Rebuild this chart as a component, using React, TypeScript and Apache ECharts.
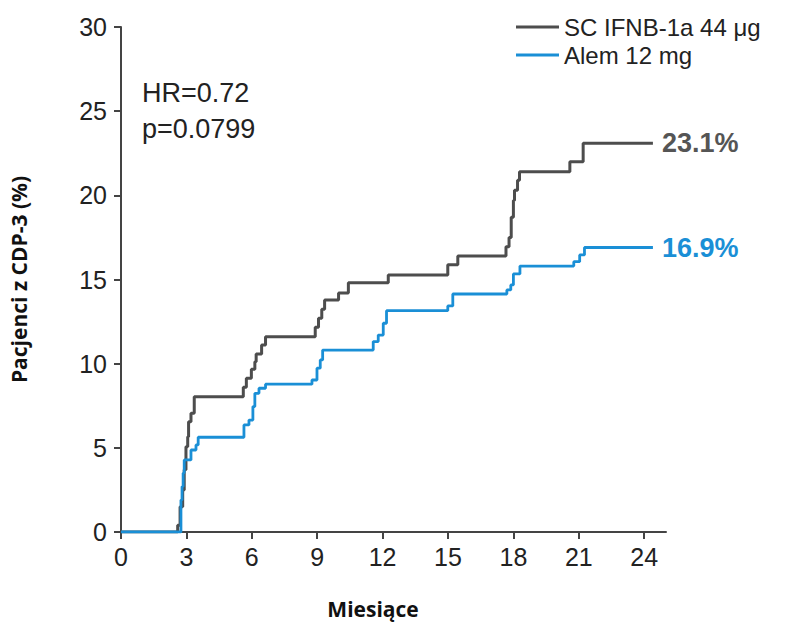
import React, { useEffect, useRef } from "react";
import * as echarts from "echarts";

const seriesNames = ["SC IFNB-1a 44 μg", "Alem 12 mg"];
const endLabels = ["23.1%", "16.9%"];
const xTicks = [0, 3, 6, 9, 12, 15, 18, 21, 24];

const ifnbMonths = [0, 2.6, 2.71, 2.83, 2.9, 2.98, 3.06, 3.1, 3.21, 3.36, 5.61, 5.75, 5.98, 6.14, 6.2, 6.45, 6.63, 8.91, 9.06, 9.21, 9.34, 9.98, 10.43, 12.26, 14.99, 15.45, 17.66, 17.8, 17.9, 18.0, 18.05, 18.19, 18.28, 20.59, 21.2, 24.4];
const ifnbValues = [0, 0.4, 1.5, 2.5, 3.7, 5.07, 5.66, 6.55, 7.05, 8.04, 8.6, 9.13, 9.67, 10.12, 10.58, 11.11, 11.6, 12.16, 12.7, 13.23, 13.78, 14.2, 14.8, 15.27, 15.87, 16.4, 16.95, 17.5, 18.7, 19.7, 20.3, 20.9, 21.4, 22.0, 23.1, 23.1];

const alemMonths = [0, 2.75, 2.8, 2.85, 2.9, 3.21, 3.44, 3.54, 5.64, 5.87, 6.05, 6.14, 6.33, 6.63, 8.76, 8.99, 9.14, 9.25, 11.57, 11.8, 12.03, 12.18, 14.99, 15.22, 17.7, 17.88, 18.0, 18.3, 20.77, 21.04, 21.26, 24.4];
const alemValues = [0, 1.9, 2.7, 3.5, 4.28, 4.87, 5.17, 5.63, 6.36, 6.65, 7.45, 8.24, 8.54, 8.78, 9.03, 9.73, 10.22, 10.81, 11.31, 11.7, 12.4, 13.15, 13.43, 14.14, 14.38, 14.68, 15.33, 15.8, 16.06, 16.46, 16.9, 16.9];

const GRAY = "#4d4d4d";
const BLUE = "#1a8fd6";
const FONT = "'Liberation Sans', Arial, sans-serif";
const BOLD_FONT = "'Open Sans', 'Noto Sans', sans-serif";

export default function App() {
  const ref = useRef<HTMLDivElement>(null);
  useEffect(() => {
    if (!ref.current) return;
    const chart = echarts.init(ref.current, null, { renderer: "svg" });
    const zip = (xs: number[], ys: number[]) => xs.map((x, i) => [x, ys[i]]);
    chart.setOption({
      animation: false,
      backgroundColor: "#ffffff",
      grid: { left: 117, right: 119, top: 27, bottom: 92 },
      legend: {
        orient: "vertical",
        left: 511,
        top: 10,
        icon: "rect",
        itemWidth: 43,
        itemHeight: 3,
        itemGap: 4,
        textStyle: { fontFamily: FONT, fontSize: 24, lineHeight: 24, color: "#222" },
        data: seriesNames,
      },
      xAxis: {
        type: "value",
        min: 0,
        max: 25,
        splitLine: { show: false },
        axisLine: { lineStyle: { color: "#444", width: 2 } },
        axisTick: { length: 7, lineStyle: { color: "#444", width: 2 }, customValues: xTicks },
        axisLabel: { customValues: xTicks, fontFamily: FONT, fontSize: 25, color: "#222", margin: 12 },
      },
      yAxis: {
        type: "value",
        min: 0,
        max: 30,
        interval: 5,
        name: "Pacjenci z CDP-3 (%)",
        nameLocation: "middle",
        nameRotate: 90,
        nameGap: 92,
        nameTextStyle: { fontFamily: BOLD_FONT, fontWeight: "bold", fontSize: 21, color: "#111" },
        splitLine: { show: false },
        axisLine: { show: true, lineStyle: { color: "#444", width: 2 } },
        axisTick: { show: true, length: 7, lineStyle: { color: "#444", width: 2 } },
        axisLabel: { fontFamily: FONT, fontSize: 25, color: "#222", margin: 14 },
      },
      graphic: [
        { type: "text", left: 142, top: 79, style: { text: "HR=0.72", fontFamily: FONT, fontSize: 27, fill: "#222" } },
        { type: "text", left: 142, top: 115, style: { text: "p=0.0799", fontFamily: FONT, fontSize: 27, fill: "#222" } },
        { type: "text", x: 373, y: 609, style: { text: "Miesiące", fontFamily: BOLD_FONT, fontWeight: "bold", fontSize: 21, fill: "#111", align: "center", verticalAlign: "middle" } },
      ],
      series: [
        {
          name: seriesNames[0],
          type: "line",
          step: "end",
          symbol: "none",
          data: zip(ifnbMonths, ifnbValues),
          lineStyle: { color: GRAY, width: 3 },
          itemStyle: { color: GRAY },
          endLabel: { show: true, formatter: endLabels[0], distance: 9, fontFamily: FONT, fontWeight: "bold", fontSize: 27, color: "#555" },
        },
        {
          name: seriesNames[1],
          type: "line",
          step: "end",
          symbol: "none",
          data: zip(alemMonths, alemValues),
          lineStyle: { color: BLUE, width: 2.8 },
          itemStyle: { color: BLUE },
          endLabel: { show: true, formatter: endLabels[1], distance: 9, fontFamily: FONT, fontWeight: "bold", fontSize: 27, color: BLUE },
        },
      ],
    });
    return () => chart.dispose();
  }, []);
  return <div ref={ref} style={{ position: "fixed", left: 0, top: 0, width: 785, height: 624 }} />;
}
